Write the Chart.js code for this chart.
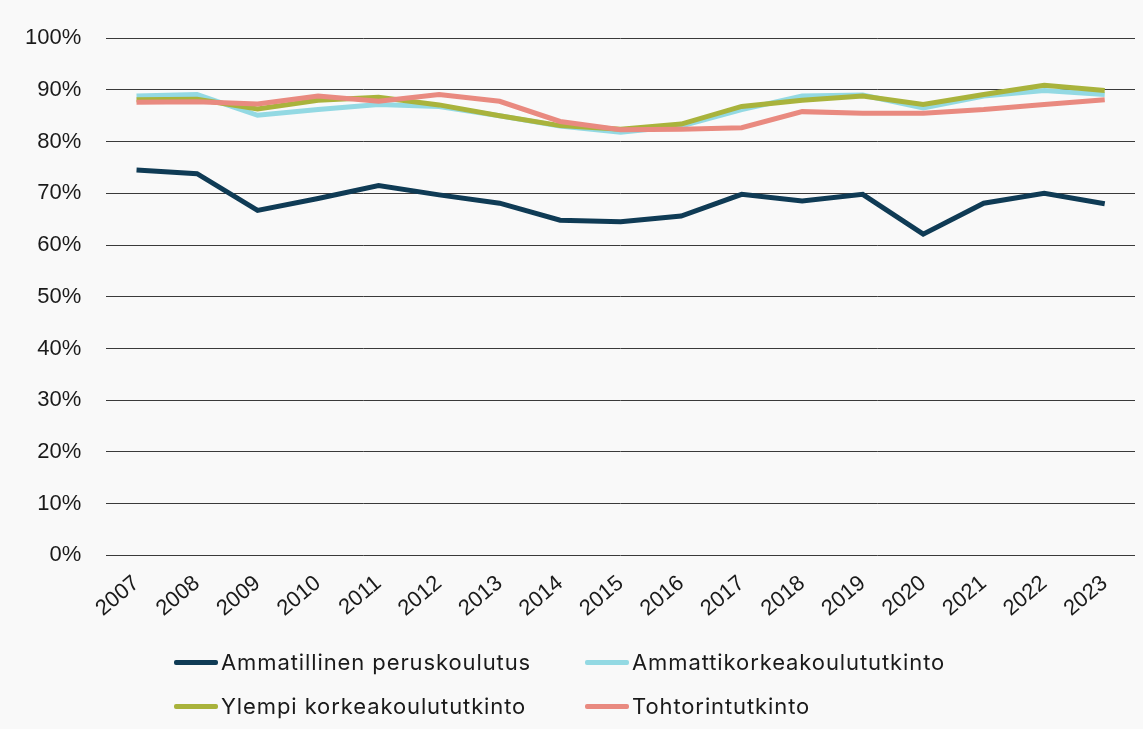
<!DOCTYPE html>
<html>
<head>
<meta charset="utf-8">
<script src="https://cdn.jsdelivr.net/npm/chart.js@4/dist/chart.umd.min.js"></script>
<style>
  html, body { margin: 0; padding: 0; background: #f9f9f9; }
  #wrap { position: absolute; left: 0; top: 0; width: 1143px; height: 655px; }
  #legend { position: absolute; left: 0; top: 0; width: 1143px; height: 729px; pointer-events: none;
            font-family: Inter, "Liberation Sans", sans-serif; font-size: 22px; letter-spacing: 0.9px; color: #1a1a1a; }
  .item { position: absolute; display: flex; align-items: center; height: 30px; }
  .swatch { width: 44px; height: 5px; border-radius: 2px; margin-right: 3px; }
</style>
</head>
<body>
<div id="wrap"><canvas id="chart1"></canvas></div>
<div id="legend"></div>
<script>
  "use strict";

  var years = ["2007", "2008", "2009", "2010", "2011", "2012", "2013", "2014", "2015",
               "2016", "2017", "2018", "2019", "2020", "2021", "2022", "2023"];
  var seriesNames = ["Ammatillinen peruskoulutus", "Ammattikorkeakoulututkinto",
                     "Ylempi korkeakoulututkinto", "Tohtorintutkinto"];
  var ammatillinen = [74.5, 73.8, 66.7, 69.0, 71.5, 69.7, 68.1, 64.8, 64.5, 65.6, 69.8, 68.5, 69.8, 62.1, 68.1, 70.0, 68.0];
  var amk = [88.8, 89.1, 85.1, 86.2, 87.2, 86.8, 85.0, 83.0, 81.8, 83.0, 86.2, 88.8, 89.0, 86.5, 88.8, 89.9, 89.1];
  var ylempi = [88.1, 88.2, 86.3, 88.0, 88.6, 87.1, 85.0, 83.1, 82.4, 83.4, 86.8, 88.0, 88.8, 87.2, 89.1, 90.9, 89.9];
  var tohtori = [87.6, 87.7, 87.3, 88.8, 87.8, 89.1, 87.8, 83.9, 82.3, 82.4, 82.7, 85.8, 85.5, 85.5, 86.2, 87.2, 88.1];
  var colors = ["#0f3b55", "#93d9e3", "#a9b33c", "#e98a80"];

  var allSeries = [ammatillinen, amk, ylempi, tohtori];

  var ctx = document.getElementById("chart1").getContext('2d');

  var myChart = new Chart(ctx, {
    type: 'line',
    data: {
      labels: years,
      datasets: allSeries.map(function (vals, i) {
        return {
          label: seriesNames[i],
          data: vals,
          borderColor: colors[i],
          backgroundColor: colors[i],
          borderWidth: 5,
          pointRadius: 0,
          tension: 0,
          fill: false,
          order: 4 - i
        };
      })
    },
    options: {
      responsive: true,
      maintainAspectRatio: false,
      animation: false,
      layout: { padding: { top: 20, right: 8, left: 0, bottom: 18 } },
      scales: {
        x: {
          offset: true,
          grid: { display: false, drawTicks: false },
          border: { display: false },
          ticks: {
            color: '#1a1a1a',
            font: { family: '"Liberation Sans", Arial, sans-serif', size: 22 },
            maxRotation: 40,
            minRotation: 40,
            padding: 15,
            autoSkip: false
          }
        },
        y: {
          min: 0,
          max: 100,
          grid: { color: '#3a3a3a', lineWidth: 1, drawTicks: false },
          border: { display: false },
          ticks: {
            stepSize: 10,
            color: '#1a1a1a',
            padding: 25,
            font: { family: '"Liberation Sans", Arial, sans-serif', size: 22 },
            callback: function (v) { return v + '%'; }
          }
        }
      },
      plugins: {
        legend: { display: false },
        tooltip: { enabled: false }
      }
    }
  });

  // legend in two fixed columns like the original
  var legendPos = [[174, 647], [585, 647], [174, 691], [585, 691]];
  var legendEl = document.getElementById('legend');
  myChart.data.datasets.forEach(function (ds, i) {
    var item = document.createElement('div');
    item.className = 'item';
    item.style.left = legendPos[i][0] + 'px';
    item.style.top = legendPos[i][1] + 'px';
    var sw = document.createElement('span');
    sw.className = 'swatch';
    sw.style.background = ds.borderColor;
    var tx = document.createElement('span');
    tx.textContent = ds.label;
    item.appendChild(sw);
    item.appendChild(tx);
    legendEl.appendChild(item);
  });
</script>
</body>
</html>
